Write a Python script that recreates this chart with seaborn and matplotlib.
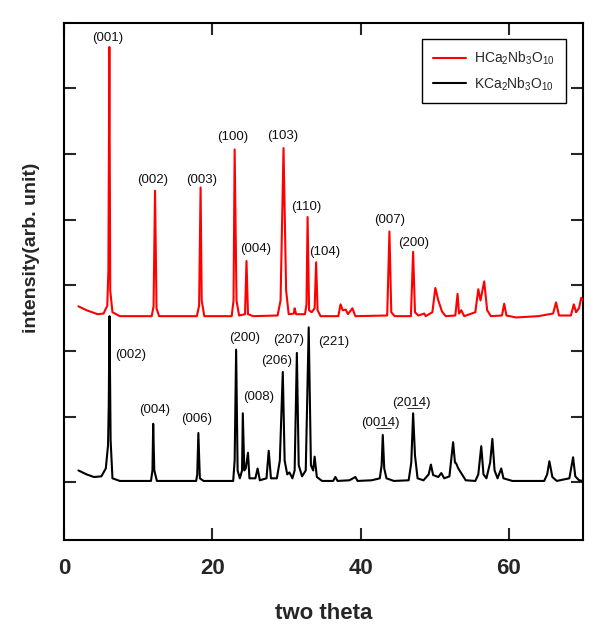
import pandas as pd
import matplotlib
matplotlib.use("Agg")
import matplotlib.pyplot as plt
import seaborn as sns

# XRD traces (two theta, intensity in arb. units, stacked)
h_theta = [1.9, 3.0, 4.5, 5.3, 5.8, 5.95, 6.08, 6.2, 6.5, 7.5,
           11.8, 12.05, 12.25, 12.45, 12.8, 17.9, 18.2, 18.4, 18.55, 18.9,
           22.6, 22.85, 23.0, 23.25, 23.6, 24.4, 24.6, 24.8, 25.5, 28.8,
           29.2, 29.6, 29.95, 30.3, 31.0, 31.1, 31.3, 32.5, 32.7, 32.85,
           33.05, 33.4, 33.8, 34.0, 34.2, 34.6, 37.0, 37.3, 37.6, 38.0,
           38.3, 38.9, 39.3, 43.6, 43.9, 44.15, 44.6, 46.8, 47.1, 47.35,
           47.8, 48.6, 48.8, 49.7, 50.1, 50.5, 51.0, 51.5, 52.8, 53.1,
           53.3, 53.6, 54.0, 55.5, 55.9, 56.2, 56.7, 57.1, 57.6, 59.1,
           59.4, 59.7, 61.0, 64.0, 66.0, 66.4, 66.8, 68.4, 68.8, 69.1,
           69.5, 69.8, 70.0]
h_int = [2.68, 2.62, 2.56, 2.57, 2.69, 3.23, 6.63, 2.92, 2.59, 2.53,
         2.53, 2.68, 4.44, 2.65, 2.53, 2.53, 2.69, 4.49, 2.77, 2.53,
         2.53, 2.77, 5.07, 2.77, 2.54, 2.56, 3.37, 2.56, 2.53, 2.54,
         2.77, 5.09, 2.92, 2.56, 2.57, 2.65, 2.56, 2.56, 2.71, 4.04,
         2.62, 2.59, 2.65, 3.35, 2.62, 2.53, 2.53, 2.71, 2.62, 2.63,
         2.56, 2.65, 2.53, 2.54, 3.82, 2.59, 2.53, 2.53, 3.51, 2.59,
         2.54, 2.57, 2.53, 2.59, 2.96, 2.77, 2.60, 2.53, 2.54, 2.87,
         2.57, 2.62, 2.53, 2.59, 2.94, 2.77, 3.06, 2.62, 2.53, 2.54,
         2.72, 2.54, 2.51, 2.53, 2.57, 2.74, 2.54, 2.54, 2.71, 2.59,
         2.65, 2.81, 2.77]

k_theta = [1.9, 3.0, 4.0, 5.0, 5.6, 5.9, 6.0, 6.1, 6.25, 6.5,
           7.5, 11.7, 11.9, 12.0, 12.15, 12.5, 17.8, 17.95, 18.1, 18.3,
           18.8, 22.8, 23.0, 23.2, 23.4, 23.7, 24.0, 24.1, 24.3, 24.5,
           24.8, 25.0, 25.8, 26.1, 26.4, 27.3, 27.6, 27.9, 28.7, 29.1,
           29.5, 29.75, 30.1, 30.4, 30.8, 31.1, 31.4, 31.65, 32.1, 32.6,
           33.0, 33.3, 33.6, 33.8, 34.1, 34.8, 36.3, 36.6, 36.9, 38.5,
           39.3, 39.6, 41.5, 42.6, 42.85, 43.0, 43.2, 43.5, 44.5, 46.5,
           46.85, 47.1, 47.35, 47.7, 48.5, 49.2, 49.5, 49.8, 50.5, 50.9,
           51.3, 52.0, 52.5, 52.75, 52.9, 53.2, 53.7, 54.2, 55.5, 55.9,
           56.3, 56.6, 57.0, 57.5, 57.8, 58.1, 58.5, 59.0, 59.3, 60.5,
           64.8, 65.2, 65.5, 65.9, 66.5, 68.2, 68.7, 69.0, 69.5, 70.0]
k_int = [0.18, 0.12, 0.08, 0.09, 0.21, 0.56, 1.17, 2.53, 0.64, 0.06,
         0.02, 0.02, 0.18, 0.89, 0.18, 0.02, 0.02, 0.12, 0.75, 0.06,
         0.02, 0.02, 0.33, 2.02, 0.18, 0.06, 0.18, 1.05, 0.18, 0.21,
         0.45, 0.06, 0.06, 0.21, 0.03, 0.06, 0.48, 0.06, 0.06, 0.33,
         1.68, 0.33, 0.12, 0.15, 0.06, 0.18, 1.97, 0.26, 0.09, 0.18,
         2.36, 0.26, 0.18, 0.39, 0.08, 0.02, 0.02, 0.08, 0.02, 0.03,
         0.08, 0.02, 0.03, 0.06, 0.26, 0.72, 0.21, 0.06, 0.02, 0.03,
         0.30, 1.05, 0.41, 0.06, 0.03, 0.12, 0.27, 0.11, 0.08, 0.14,
         0.06, 0.09, 0.61, 0.30, 0.29, 0.21, 0.12, 0.03, 0.02, 0.12,
         0.55, 0.12, 0.06, 0.30, 0.66, 0.18, 0.06, 0.21, 0.06, 0.02,
         0.02, 0.12, 0.32, 0.08, 0.02, 0.06, 0.38, 0.09, 0.03, 0.02]

# peak index labels
h_labels = ["(001)", "(002)", "(003)", "(100)", "(103)", "(004)",
            "(110)", "(104)", "(007)", "(200)"]
h_label_x = [5.85, 11.9, 18.5, 22.7, 29.5, 25.8, 32.7, 35.1, 43.9, 47.2]
h_label_y = [6.77, 4.61, 4.61, 5.26, 5.27, 3.56, 4.19, 3.51, 3.99, 3.65]

k_labels = ["(002)", "(004)", "(006)", "(200)", "(008)", "(206)",
            "(207)", "(221)", "(00\u03321\u03324)", "(20\u03321\u03324)"]
k_label_x = [9.0, 12.25, 17.9, 24.3, 26.3, 28.7, 30.3, 36.35, 42.7, 46.8]
k_label_y = [1.94, 1.10, 0.97, 2.20, 1.30, 1.85, 2.17, 2.14, 0.91, 1.20]

h_name = r"HCa$_2$Nb$_3$O$_{10}$"
k_name = r"KCa$_2$Nb$_3$O$_{10}$"

df_h = pd.DataFrame({"theta": h_theta, "intensity": h_int})
df_k = pd.DataFrame({"theta": k_theta, "intensity": k_int})

sns.set_style("ticks")
plt.rcParams["font.family"] = ["Liberation Sans", "DejaVu Sans"]
plt.rcParams["mathtext.fontset"] = "custom"
plt.rcParams["mathtext.rm"] = "Liberation Sans"
plt.rcParams["mathtext.default"] = "regular"

fig = plt.figure(figsize=(6.08, 6.36), dpi=100)
ax = fig.add_axes([0.1058, 0.1509, 0.8526, 0.8134])

sns.lineplot(data=df_k, x="theta", y="intensity", color="black", lw=1.5,
             sort=False, estimator=None, label=k_name, ax=ax, zorder=2)
sns.lineplot(data=df_h, x="theta", y="intensity", color="#ff0000", lw=1.5,
             sort=False, estimator=None, label=h_name, ax=ax, zorder=3)

for t, x, y in zip(h_labels, h_label_x, h_label_y):
    ax.text(x, y, t, ha="center", va="center", fontsize=9.5, color="#111111")
for t, x, y in zip(k_labels, k_label_x, k_label_y):
    ax.text(x, y, t, ha="center", va="center", fontsize=9.5, color="#111111")

ax.set_xlim(0, 70)
ax.set_ylim(-0.88, 7.0)
ax.set_xticks([0, 20, 40, 60])
ax.set_yticks(range(0, 7))
ax.set_yticklabels([])
ax.tick_params(direction="in", length=8.5, width=1.5, top=True, right=True)
ax.tick_params(axis="x", labelsize=16, pad=13)
for lab in ax.get_xticklabels():
    lab.set_fontweight("bold")
for s in ax.spines.values():
    s.set_linewidth(1.5)
    s.set_color("black")

ax.set_xlabel("two theta", fontsize=16, fontweight="bold")
ax.set_ylabel("intensity(arb. unit)", fontsize=14, fontweight="bold")
ax.xaxis.set_label_coords(0.5, -0.122)
ax.yaxis.set_label_coords(-0.047, 0.564)

handles, labels = ax.get_legend_handles_labels()
leg = ax.legend(handles[::-1], labels[::-1], loc="upper right",
                bbox_to_anchor=(0.967, 0.9685), borderaxespad=0,
                fontsize=10, fancybox=False, framealpha=1, edgecolor="black",
                handlelength=2.4, handletextpad=0.6, borderpad=0.75,
                labelspacing=0.6)
leg.get_frame().set_linewidth(1.0)

fig.savefig("out.png", dpi=100)
